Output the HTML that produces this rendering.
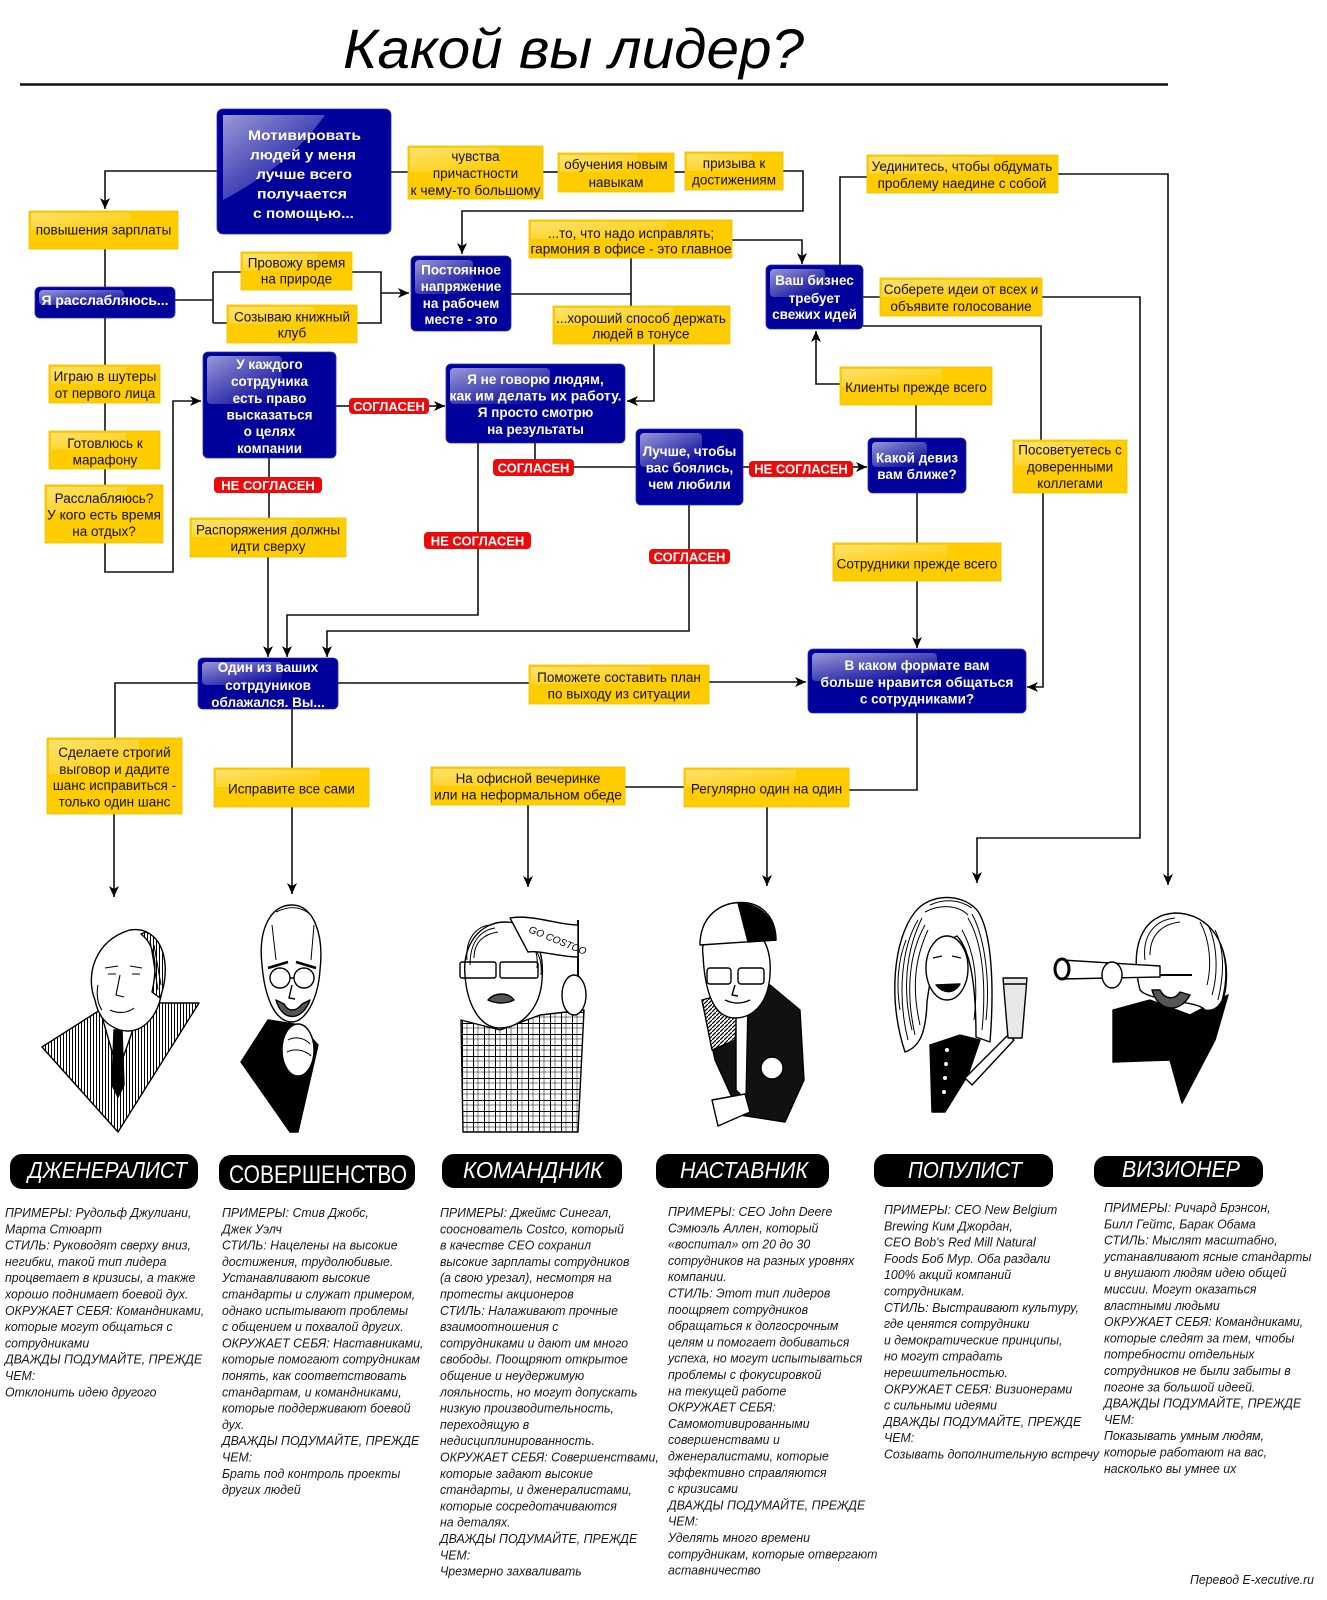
<!DOCTYPE html>
<html><head><meta charset="utf-8">
<style>
html,body{margin:0;padding:0;background:#fff;}
svg{display:block;}
.y{font-family:"Liberation Sans",sans-serif;font-size:13.5px;fill:#111;text-anchor:middle;}
.b{font-family:"Liberation Sans",sans-serif;font-size:13.5px;font-weight:bold;fill:#fff;text-anchor:middle;}
.r{font-family:"Liberation Sans",sans-serif;font-size:13px;font-weight:bold;fill:#fff;text-anchor:middle;}
.t{font-family:"Liberation Sans",sans-serif;font-size:13px;font-style:italic;fill:#1a1a1a;}
.h{font-family:"Liberation Sans",sans-serif;fill:#fff;}
</style></head>
<body>
<svg width="1327" height="1600" viewBox="0 0 1327 1600" xmlns="http://www.w3.org/2000/svg">
<defs>
 <marker id="ah" markerWidth="12" markerHeight="12" refX="11" refY="6" orient="auto" markerUnits="userSpaceOnUse"><path d="M0,1 L11,6 L0,11 L3,6 Z" fill="#000"/></marker>
 <linearGradient id="gl" x1="0" y1="0" x2="0.9" y2="1"><stop offset="0" stop-color="#fff" stop-opacity="0.6"/><stop offset="1" stop-color="#fff" stop-opacity="0"/></linearGradient>
 <linearGradient id="gy" x1="0" y1="0" x2="0.9" y2="1"><stop offset="0" stop-color="#fff" stop-opacity="0.45"/><stop offset="1" stop-color="#fff" stop-opacity="0"/></linearGradient>
 <pattern id="hatch" width="3" height="3" patternUnits="userSpaceOnUse"><rect width="3" height="3" fill="#fff"/><path d="M0.5,0 V3" stroke="#000" stroke-width="1"/></pattern>
 <pattern id="dhatch" width="4" height="4" patternUnits="userSpaceOnUse"><rect width="4" height="4" fill="#fff"/><path d="M0,4 L4,0" stroke="#000" stroke-width="1.2"/></pattern>
 <pattern id="plaid" width="11" height="11" patternUnits="userSpaceOnUse"><rect width="11" height="11" fill="#fff"/><path d="M0,0.5 H11 M0.5,0 V11" stroke="#000" stroke-width="1"/><path d="M0,5 H11 M5,0 V11" stroke="#000" stroke-width="0.5"/></pattern>
</defs>

<!-- Title -->
<text x="343" y="68" font-family="Liberation Sans, sans-serif" font-size="56" font-style="italic" fill="#000" textLength="461" lengthAdjust="spacingAndGlyphs">Какой вы лидер?</text>
<line x1="20" y1="84.5" x2="1168" y2="84.5" stroke="#111" stroke-width="2.5"/>

<!-- Connectors -->
<g fill="none" stroke="#111" stroke-width="1.6">
 <path d="M217,171 H105 V209" marker-end="url(#ah)"/>
 <path d="M391,172 H408"/>
 <path d="M543,172 H558"/>
 <path d="M674,172 H685"/>
 <path d="M783,171 H803 V211 H462 V254" marker-end="url(#ah)"/>
 <path d="M105,249 V287"/>
 <path d="M175,300 H213 M213,272 V323 M213,272 H241 M213,323 H227"/>
 <path d="M352,272 H381 V323 H357"/>
 <path d="M381,293 H409" marker-end="url(#ah)"/>
 <path d="M105,318 V572 H173 V401 H201" marker-end="url(#ah)"/>
 <path d="M511,294 H631 M631,258 V306"/>
 <path d="M732,240 H802 V264" marker-end="url(#ah)"/>
 <path d="M654,344 V401 H627" marker-end="url(#ah)"/>
 <path d="M840,265 V177 H867"/>
 <path d="M1058,174 H1168 V885" marker-end="url(#ah)"/>
 <path d="M863,297 H880"/>
 <path d="M1042,297 H1140 V838 H977 V883" marker-end="url(#ah)"/>
 <path d="M863,326 H1041 V440"/>
 <path d="M840,384 H816 V331" marker-end="url(#ah)"/>
 <path d="M916,405 V438"/>
 <path d="M336,406 H349"/>
 <path d="M429,406 H445" marker-end="url(#ah)"/>
 <path d="M269,458 V518"/>
 <path d="M268,557 V657" marker-end="url(#ah)"/>
 <path d="M535,443 V459 M574,467 H637"/>
 <path d="M478,443 V615 H287 V657" marker-end="url(#ah)"/>
 <path d="M743,467 H749"/>
 <path d="M853,467 H867" marker-end="url(#ah)"/>
 <path d="M689,505 V631 H327 V657" marker-end="url(#ah)"/>
 <path d="M917,493 V543"/>
 <path d="M917,581 V648" marker-end="url(#ah)"/>
 <path d="M1043,493 V687 H1027" marker-end="url(#ah)"/>
 <path d="M198,683 H115 V738"/>
 <path d="M114,814 V897" marker-end="url(#ah)"/>
 <path d="M292,709 V768"/>
 <path d="M292,807 V894" marker-end="url(#ah)"/>
 <path d="M338,683 H529"/>
 <path d="M709,682 H806" marker-end="url(#ah)"/>
 <path d="M917,713 V790 H849"/>
 <path d="M684,787 H625"/>
 <path d="M528,805 V887" marker-end="url(#ah)"/>
 <path d="M767,807 V886" marker-end="url(#ah)"/>
</g>

<!-- Yellow boxes -->
<g stroke="#f0bf00" stroke-width="0.8">
 <rect x="29" y="211" width="149" height="38" fill="#FFCC00"/>
 <rect x="241" y="252" width="111" height="38" fill="#FFCC00"/>
 <rect x="227" y="305" width="130" height="38" fill="#FFCC00"/>
 <rect x="408" y="146" width="135" height="53" fill="#FFCC00"/>
 <rect x="558" y="153" width="116" height="39" fill="#FFCC00"/>
 <rect x="685" y="152" width="98" height="38" fill="#FFCC00"/>
 <rect x="529" y="220" width="203" height="38" fill="#FFCC00"/>
 <rect x="553" y="306" width="177" height="38" fill="#FFCC00"/>
 <rect x="867" y="155" width="191" height="38" fill="#FFCC00"/>
 <rect x="880" y="278" width="162" height="38" fill="#FFCC00"/>
 <rect x="840" y="367" width="152" height="38" fill="#FFCC00"/>
 <rect x="49" y="365" width="111" height="38" fill="#FFCC00"/>
 <rect x="49" y="431" width="111" height="38" fill="#FFCC00"/>
 <rect x="45" y="485" width="118" height="58" fill="#FFCC00"/>
 <rect x="190" y="518" width="156" height="39" fill="#FFCC00"/>
 <rect x="833" y="543" width="168" height="38" fill="#FFCC00"/>
 <rect x="1013" y="440" width="114" height="53" fill="#FFCC00"/>
 <rect x="529" y="665" width="180" height="39" fill="#FFCC00"/>
 <rect x="47" y="738" width="135" height="76" fill="#FFCC00"/>
 <rect x="214" y="768" width="155" height="39" fill="#FFCC00"/>
 <rect x="431" y="767" width="194" height="38" fill="#FFCC00"/>
 <rect x="684" y="768" width="165" height="39" fill="#FFCC00"/>
</g>
<g fill="url(#gy)">
 <rect x="31" y="213" width="100" height="17"/>
 <rect x="243" y="254" width="75" height="17"/>
 <rect x="229" y="307" width="85" height="17"/>
 <rect x="410" y="148" width="90" height="24"/>
 <rect x="560" y="155" width="78" height="17"/>
 <rect x="687" y="154" width="65" height="17"/>
 <rect x="531" y="222" width="135" height="17"/>
 <rect x="555" y="308" width="118" height="17"/>
 <rect x="869" y="157" width="125" height="17"/>
 <rect x="882" y="280" width="108" height="17"/>
 <rect x="842" y="369" width="100" height="17"/>
 <rect x="51" y="367" width="75" height="17"/>
 <rect x="51" y="433" width="75" height="17"/>
 <rect x="47" y="487" width="80" height="26"/>
 <rect x="192" y="520" width="104" height="17"/>
 <rect x="835" y="545" width="112" height="17"/>
 <rect x="1015" y="442" width="76" height="24"/>
 <rect x="531" y="667" width="120" height="17"/>
 <rect x="49" y="740" width="90" height="34"/>
 <rect x="216" y="770" width="104" height="17"/>
 <rect x="433" y="769" width="130" height="17"/>
 <rect x="686" y="770" width="110" height="17"/>
</g>

<!-- Yellow texts -->
<text class="y" x="103.5" y="234.5">повышения зарплаты</text>
<text class="y" x="296.5" y="267.5">Провожу время</text>
<text class="y" x="296.5" y="283.5">на природе</text>
<text class="y" x="292" y="321.5">Созываю книжный</text>
<text class="y" x="292" y="337.5">клуб</text>
<text class="y" x="475.5" y="161">чувства</text>
<text class="y" x="475.5" y="178">причастности</text>
<text class="y" x="475.5" y="195" textLength="130" lengthAdjust="spacingAndGlyphs">к чему-то большому</text>
<text class="y" x="616" y="169">обучения новым</text>
<text class="y" x="616" y="187">навыкам</text>
<text class="y" x="734" y="168">призыва к</text>
<text class="y" x="734" y="184.5">достижениям</text>
<text class="y" x="631" y="238">...то, что надо исправлять;</text>
<text class="y" x="631" y="253.5" textLength="201" lengthAdjust="spacingAndGlyphs">гармония в офисе - это главное</text>
<text class="y" x="641" y="323">...хороший способ держать</text>
<text class="y" x="641" y="338.5">людей в тонусе</text>
<text class="y" x="962" y="171">Уединитесь, чтобы обдумать</text>
<text class="y" x="962" y="188">проблему наедине с собой</text>
<text class="y" x="961" y="294">Соберете идеи от всех и</text>
<text class="y" x="961" y="311">объявите голосование</text>
<text class="y" x="916" y="392">Клиенты прежде всего</text>
<text class="y" x="105" y="381">Играю в шутеры</text>
<text class="y" x="105" y="398">от первого лица</text>
<text class="y" x="105" y="448">Готовлюсь к</text>
<text class="y" x="105" y="464.5">марафону</text>
<text class="y" x="104" y="503">Расслабляюсь?</text>
<text class="y" x="104" y="519.5" textLength="114" lengthAdjust="spacingAndGlyphs">У кого есть время</text>
<text class="y" x="104" y="536">на отдых?</text>
<text class="y" x="268" y="534.5">Распоряжения должны</text>
<text class="y" x="268" y="551">идти сверху</text>
<text class="y" x="917" y="568.5">Сотрудники прежде всего</text>
<text class="y" x="1070" y="454.5">Посоветуетесь с</text>
<text class="y" x="1070" y="471.5">доверенными</text>
<text class="y" x="1070" y="488">коллегами</text>
<text class="y" x="619" y="682">Поможете составить план</text>
<text class="y" x="619" y="698.5">по выходу из ситуации</text>
<text class="y" x="114.5" y="757">Сделаете строгий</text>
<text class="y" x="114.5" y="774">выговор и дадите</text>
<text class="y" x="114.5" y="790">шанс исправиться -</text>
<text class="y" x="114.5" y="806.5">только один шанс</text>
<text class="y" x="291.5" y="793.5">Исправите все сами</text>
<text class="y" x="528" y="783">На офисной вечеринке</text>
<text class="y" x="528" y="799.5" textLength="188" lengthAdjust="spacingAndGlyphs">или на неформальном обеде</text>
<text class="y" x="766.5" y="793.5">Регулярно один на один</text>

<!-- Blue boxes -->
<g fill="#00009a" stroke="#2b2bb5" stroke-width="0.8">
 <rect x="217" y="109" width="174" height="125" rx="6"/>
 <rect x="411" y="256" width="100" height="75" rx="5"/>
 <rect x="35" y="287" width="140" height="31" rx="5"/>
 <rect x="766" y="265" width="97" height="64" rx="5"/>
 <rect x="203" y="352" width="133" height="106" rx="5"/>
 <rect x="446" y="364" width="179" height="79" rx="5"/>
 <rect x="636" y="429" width="107" height="76" rx="5"/>
 <rect x="868" y="438" width="98" height="55" rx="5"/>
 <rect x="198" y="658" width="140" height="51" rx="5"/>
 <rect x="808" y="649" width="218" height="64" rx="5"/>
</g>
<g fill="url(#gl)">
 <path d="M223,115 H325 C300,150 270,175 223,200 Z"/>
 <rect x="415" y="260" width="58" height="34" rx="4"/>
 <rect x="39" y="290" width="85" height="15" rx="4"/>
 <rect x="770" y="269" width="55" height="28" rx="4"/>
 <rect x="207" y="356" width="75" height="48" rx="4"/>
 <rect x="450" y="368" width="100" height="36" rx="4"/>
 <rect x="640" y="433" width="62" height="34" rx="4"/>
 <rect x="872" y="442" width="55" height="25" rx="4"/>
 <rect x="202" y="662" width="80" height="23" rx="4"/>
 <rect x="812" y="653" width="125" height="28" rx="4"/>
</g>

<!-- Blue texts -->
<text class="b" x="304.5" y="140" font-size="17" textLength="113" lengthAdjust="spacingAndGlyphs">Мотивировать</text>
<text class="b" x="303" y="159.5" font-size="17" textLength="106" lengthAdjust="spacingAndGlyphs">людей у меня</text>
<text class="b" x="304" y="179" font-size="17" textLength="96" lengthAdjust="spacingAndGlyphs">лучше всего</text>
<text class="b" x="302" y="198.5" font-size="17" textLength="90" lengthAdjust="spacingAndGlyphs">получается</text>
<text class="b" x="303.5" y="218" font-size="17" textLength="101" lengthAdjust="spacingAndGlyphs">с помощью...</text>
<text class="b" x="461" y="274.5">Постоянное</text>
<text class="b" x="461" y="291">напряжение</text>
<text class="b" x="461" y="308">на рабочем</text>
<text class="b" x="461" y="324">месте - это</text>
<text class="b" x="105" y="305" textLength="127" lengthAdjust="spacingAndGlyphs">Я расслабляюсь...</text>
<text class="b" x="814.5" y="285">Ваш бизнес</text>
<text class="b" x="814.5" y="303">требует</text>
<text class="b" x="814.5" y="319">свежих идей</text>
<text class="b" x="269.5" y="369">У каждого</text>
<text class="b" x="269.5" y="386">сотрдуника</text>
<text class="b" x="269.5" y="403">есть право</text>
<text class="b" x="269.5" y="419.5">высказаться</text>
<text class="b" x="269.5" y="436">о целях</text>
<text class="b" x="269.5" y="453">компании</text>
<text class="b" x="535.5" y="384">Я не говорю людям,</text>
<text class="b" x="535.5" y="400.5" textLength="172" lengthAdjust="spacingAndGlyphs">как им делать их работу.</text>
<text class="b" x="535.5" y="417">Я просто смотрю</text>
<text class="b" x="535.5" y="434">на результаты</text>
<text class="b" x="689.5" y="456">Лучше, чтобы</text>
<text class="b" x="689.5" y="472.5">вас боялись,</text>
<text class="b" x="689.5" y="489">чем любили</text>
<text class="b" x="917" y="462.5">Какой девиз</text>
<text class="b" x="917" y="479">вам ближе?</text>
<text class="b" x="268" y="672">Один из ваших</text>
<text class="b" x="268" y="690">сотрдуников</text>
<text class="b" x="268" y="707">облажался. Вы...</text>
<text class="b" x="917" y="670">В каком формате вам</text>
<text class="b" x="917" y="687" textLength="193" lengthAdjust="spacingAndGlyphs">больше нравится общаться</text>
<text class="b" x="917" y="703.5">с сотрудниками?</text>

<!-- Red labels -->
<g fill="#ee0a0a">
 <rect x="349" y="398" width="80" height="16" rx="4"/>
 <rect x="214" y="477" width="108" height="16" rx="4"/>
 <rect x="493" y="459" width="81" height="17" rx="4"/>
 <rect x="424" y="532" width="107" height="17" rx="4"/>
 <rect x="749" y="461" width="104" height="16" rx="4"/>
 <rect x="649" y="549" width="81" height="15" rx="4"/>
</g>
<text class="r" x="389" y="411">СОГЛАСЕН</text>
<text class="r" x="268" y="490">НЕ СОГЛАСЕН</text>
<text class="r" x="533.5" y="472.5">СОГЛАСЕН</text>
<text class="r" x="477.5" y="545.5">НЕ СОГЛАСЕН</text>
<text class="r" x="801" y="473.5">НЕ СОГЛАСЕН</text>
<text class="r" x="689.5" y="561.5">СОГЛАСЕН</text>

<!-- Caricatures -->
<g stroke="#000" stroke-width="1.4" stroke-linejoin="round">
 <!-- 1 Giuliani -->
 <path d="M42,1047 L100,1010 L120,1040 L145,1003 L199,1003 L118,1132 Z" fill="url(#hatch)"/>
 <path d="M100,1010 L118,1072 L142,1004 Z" fill="#fff"/>
 <path d="M114,1030 L122,1030 L124,1085 L118,1097 L112,1085 Z" fill="#000"/>
 <path d="M95,1000 C85,975 95,940 130,930 C160,925 168,960 162,990 C158,1020 140,1035 120,1030 C105,1025 98,1015 95,1000 Z" fill="#fff"/>
 <path d="M146,932 C166,940 170,972 160,998 L152,992 C158,965 155,945 141,934 Z" fill="url(#hatch)"/>
 <path d="M150,940 L158,990 M154,945 L161,985" fill="none" stroke-width="1"/>
 <path d="M105,968 L118,966 M130,966 L142,968 M108,974 L116,974 M132,974 L140,974 M120,975 L116,995 L124,997 M110,1010 C118,1014 128,1013 134,1008 M98,985 C96,995 98,1005 102,1010" fill="none" stroke-width="1.1"/>
 <!-- 2 Jobs -->
 <path d="M241,1062 L268,1020 L300,1025 L318,1045 L298,1132 L290,1132 Z" fill="#000"/>
 <path d="M262,965 C258,930 270,905 292,905 C314,905 324,935 320,970 C318,1000 305,1022 292,1022 C276,1022 265,1000 262,965 Z" fill="#fff"/>
 <path d="M276,912 C288,906 300,906 310,914 M272,925 L276,960 M314,925 L311,960" fill="none" stroke-width="1"/>
 <path d="M268,968 L288,962 M296,962 L316,968" fill="none" stroke-width="2.5"/>
 <circle cx="280" cy="978" r="10" fill="none"/><circle cx="304" cy="978" r="10" fill="none"/>
 <path d="M290,978 L294,978 M292,985 L289,998 L295,999" fill="none"/>
 <path d="M276,1000 C282,1022 302,1022 310,1000 L302,1004 C296,1012 288,1012 284,1004 Z" fill="#555"/>
 <ellipse cx="298" cy="1050" rx="16" ry="26" fill="#fff"/>
 <path d="M288,1040 C295,1036 305,1038 310,1044 M287,1052 C295,1048 305,1050 311,1056" fill="none" stroke-width="1"/>
 <!-- 3 Costco -->
 <path d="M461,1020 L500,1030 L540,1015 L584,1010 L578,1132 L463,1132 Z" fill="url(#plaid)"/>
 <path d="M465,975 C462,945 480,922 505,922 C530,922 545,945 542,980 C540,1010 520,1028 500,1028 C480,1028 467,1005 465,975 Z" fill="#fff"/>
 <path d="M467,960 C465,935 480,925 492,925 M470,965 C470,940 482,930 495,928 M474,958 C474,942 484,934 498,932 M535,950 C540,955 542,965 541,975 M530,940 C536,948 538,958 537,968" fill="none" stroke-width="1"/>
 <rect x="460" y="962" width="36" height="16" rx="2" fill="none"/>
 <rect x="500" y="962" width="38" height="16" rx="2" fill="none"/>
 <path d="M488,1000 C495,992 508,992 514,1000 C506,1004 496,1004 488,1000 Z" fill="#555"/>
 <path d="M578,920 L578,1012" fill="none" stroke-width="2"/>
 <path d="M510,918 C530,914 560,925 578,925 L578,957 C560,957 540,950 528,952 Z" fill="#fff"/>
 <text x="528" y="932" font-family="Liberation Sans, sans-serif" font-size="10" font-style="italic" stroke="none" fill="#000" transform="rotate(22 528 932)">GO COSTCO</text>
 <ellipse cx="574" cy="995" rx="12" ry="20" fill="#fff"/>
 <!-- 4 Mentor -->
 <path d="M702,1000 L740,990 L770,985 L800,1010 L804,1080 L785,1122 L740,1115 L715,1060 Z" fill="#111"/>
 <path d="M702,1000 L740,990 L735,1040 L712,1050 Z" fill="url(#dhatch)"/>
 <path d="M736,1005 L748,1003 L746,1100 L736,1090 Z" fill="#fff"/>
 <circle cx="772" cy="1068" r="11" fill="#fff"/>
 <path d="M703,955 C700,935 715,925 735,925 C760,925 772,945 770,975 C768,1005 752,1018 735,1018 C715,1018 705,995 703,955 Z" fill="#fff"/>
 <path d="M700,942 C702,912 725,900 748,903 C765,906 776,920 776,940 L700,945 Z" fill="#fff"/>
 <path d="M738,903 C758,904 775,916 776,940 L748,942 Z" fill="#000"/>
 <rect x="707" y="968" width="24" height="16" rx="3" fill="none"/>
 <rect x="738" y="968" width="26" height="16" rx="3" fill="none"/>
 <path d="M725,1000 C733,1004 742,1004 750,1000 M735,985 L732,995 L738,996" fill="none"/>
 <path d="M712,1100 L745,1094 L750,1112 L718,1126 Z" fill="#fff"/>
 <!-- 5 Populist -->
 <path d="M930,1045 L960,1035 L980,1040 L968,1075 L945,1112 L932,1112 Z" fill="#000"/>
 <circle cx="947" cy="1050" r="2" fill="#fff" stroke="none"/>
 <circle cx="946" cy="1064" r="2" fill="#fff" stroke="none"/>
 <circle cx="945" cy="1078" r="2" fill="#fff" stroke="none"/>
 <circle cx="944" cy="1092" r="2" fill="#fff" stroke="none"/>
 <path d="M965,1078 L1008,1035 L1014,1040 L972,1085 Z" fill="#fff"/>
 <path d="M905,1052 C888,1000 893,940 915,912 C930,893 962,893 977,910 C993,932 994,992 990,1042 L976,1037 C976,992 972,952 957,936 C942,942 932,962 927,1002 C926,1032 920,1047 905,1052 Z" fill="#fff"/>
 <path d="M908,1040 C898,1000 900,950 918,920 M915,1035 C906,995 908,955 925,925 M912,1030 C902,990 906,950 922,918 M920,1025 C912,990 914,960 928,930 M982,1030 C986,990 984,945 968,918 M974,1020 C978,985 976,955 962,930 M986,1020 C990,985 986,940 972,914 M930,905 C945,898 960,900 972,908 M925,912 C940,904 958,905 968,915 M900,1010 C896,985 898,960 906,940" fill="none" stroke-width="1"/>
 <ellipse cx="947" cy="968" rx="21" ry="32" fill="#fff"/>
 <path d="M933,958 L942,956 M952,956 L961,958" fill="none" stroke-width="1.2"/>
 <path d="M936,985 C944,994 954,994 960,984 Z" fill="#000"/>
 <path d="M1003,978 L1027,978 L1022,1038 L1008,1038 Z" fill="#e8e8e8"/>
 <path d="M1003,984 L1027,984" fill="none"/>
 <!-- 6 Visionary -->
 <path d="M1113,1010 L1150,1000 L1190,1015 L1228,995 L1215,1040 L1182,1103 L1170,1060 L1113,1062 Z" fill="#000"/>
 <path d="M1140,990 C1130,950 1140,915 1175,913 C1210,913 1230,945 1226,985 C1224,1005 1215,1012 1205,1010 C1198,1000 1150,1002 1140,990 Z" fill="#fff"/>
 <path d="M1145,960 C1142,935 1155,920 1175,918 M1150,955 C1150,935 1162,924 1180,922 M1215,930 C1225,950 1224,975 1218,1000 M1208,925 C1218,945 1218,975 1212,995 M1200,922 C1210,940 1212,965 1207,985 M1221,945 C1228,965 1226,985 1222,1000" fill="none" stroke-width="1"/>
 <path d="M1152,990 C1158,1012 1180,1014 1190,995 L1180,992 C1175,1000 1165,1000 1160,990 Z" fill="#555"/>
 <path d="M1158,975 L1192,975" fill="none" stroke-width="2"/>
 <path d="M1062,960 L1160,966 L1160,977 L1062,979 Z" fill="#fff"/>
 <ellipse cx="1062" cy="969" rx="7" ry="10" fill="#fff" stroke-width="3"/>
 <ellipse cx="1112" cy="975" rx="10" ry="13" fill="#fff"/>
</g>

<!-- Headings -->
<g fill="#000">
 <rect x="10" y="1154" width="188" height="35" rx="12"/>
 <rect x="219" y="1155" width="196" height="35" rx="12"/>
 <rect x="442" y="1154" width="180" height="34" rx="12"/>
 <rect x="656" y="1154" width="173" height="34" rx="12"/>
 <rect x="874" y="1154" width="179" height="33" rx="12"/>
 <rect x="1094" y="1156" width="169" height="31" rx="12"/>
</g>
<text class="h" x="28" y="1178" font-size="23" font-style="italic" textLength="159" lengthAdjust="spacingAndGlyphs">ДЖЕНЕРАЛИСТ</text>
<text class="h" x="229" y="1183" font-size="25" textLength="178" lengthAdjust="spacingAndGlyphs">СОВЕРШЕНСТВО</text>
<text class="h" x="463" y="1178" font-size="23" font-style="italic" textLength="140" lengthAdjust="spacingAndGlyphs">КОМАНДНИК</text>
<text class="h" x="680" y="1178" font-size="23" font-style="italic" textLength="128" lengthAdjust="spacingAndGlyphs">НАСТАВНИК</text>
<text class="h" x="908" y="1178" font-size="23" font-style="italic" textLength="114" lengthAdjust="spacingAndGlyphs">ПОПУЛИСТ</text>
<text class="h" x="1122" y="1177" font-size="23" font-style="italic" textLength="118" lengthAdjust="spacingAndGlyphs">ВИЗИОНЕР</text>

<!-- Column texts -->
<g transform="translate(5,0) scale(0.95,1) translate(-5,0)">
<text class="t" x="5" y="1217">
 <tspan x="5">ПРИМЕРЫ: Рудольф Джулиани,</tspan>
 <tspan x="5" dy="16.3">Марта Стюарт</tspan>
 <tspan x="5" dy="16.3">СТИЛЬ: Руководят сверху вниз,</tspan>
 <tspan x="5" dy="16.3">негибки, такой тип лидера</tspan>
 <tspan x="5" dy="16.3">процветает в кризисы, а также</tspan>
 <tspan x="5" dy="16.3">хорошо поднимает боевой дух.</tspan>
 <tspan x="5" dy="16.3">ОКРУЖАЕТ СЕБЯ: Командниками,</tspan>
 <tspan x="5" dy="16.3">которые могут общаться с</tspan>
 <tspan x="5" dy="16.3">сотрудниками</tspan>
 <tspan x="5" dy="16.3">ДВАЖДЫ ПОДУМАЙТЕ, ПРЕЖДЕ</tspan>
 <tspan x="5" dy="16.3">ЧЕМ:</tspan>
 <tspan x="5" dy="16.3">Отклонить идею другого</tspan>
</text>
</g>
<g transform="translate(222,0) scale(0.95,1) translate(-222,0)">
<text class="t" x="222" y="1217">
 <tspan x="222">ПРИМЕРЫ: Стив Джобс,</tspan>
 <tspan x="222" dy="16.3">Джек Уэлч</tspan>
 <tspan x="222" dy="16.3">СТИЛЬ: Нацелены на высокие</tspan>
 <tspan x="222" dy="16.3">достижения, трудолюбивые.</tspan>
 <tspan x="222" dy="16.3">Устанавливают высокие</tspan>
 <tspan x="222" dy="16.3">стандарты и служат примером,</tspan>
 <tspan x="222" dy="16.3">однако испытывают проблемы</tspan>
 <tspan x="222" dy="16.3">с общением и похвалой других.</tspan>
 <tspan x="222" dy="16.3">ОКРУЖАЕТ СЕБЯ: Наставниками,</tspan>
 <tspan x="222" dy="16.3">которые помогают сотрудникам</tspan>
 <tspan x="222" dy="16.3">понять, как соответствовать</tspan>
 <tspan x="222" dy="16.3">стандартам, и командниками,</tspan>
 <tspan x="222" dy="16.3">которые поддерживают боевой</tspan>
 <tspan x="222" dy="16.3">дух.</tspan>
 <tspan x="222" dy="16.3">ДВАЖДЫ ПОДУМАЙТЕ, ПРЕЖДЕ</tspan>
 <tspan x="222" dy="16.3">ЧЕМ:</tspan>
 <tspan x="222" dy="16.3">Брать под контроль проекты</tspan>
 <tspan x="222" dy="16.3">других людей</tspan>
</text>
</g>
<g transform="translate(440,0) scale(0.95,1) translate(-440,0)">
<text class="t" x="440" y="1217">
 <tspan x="440">ПРИМЕРЫ: Джеймс Синегал,</tspan>
 <tspan x="440" dy="16.3">сооснователь Costco, который</tspan>
 <tspan x="440" dy="16.3">в качестве CEO сохранил</tspan>
 <tspan x="440" dy="16.3">высокие зарплаты сотрудников</tspan>
 <tspan x="440" dy="16.3">(а свою урезал), несмотря на</tspan>
 <tspan x="440" dy="16.3">протесты акционеров</tspan>
 <tspan x="440" dy="16.3">СТИЛЬ: Налаживают прочные</tspan>
 <tspan x="440" dy="16.3">взаимоотношения с</tspan>
 <tspan x="440" dy="16.3">сотрудниками и дают им много</tspan>
 <tspan x="440" dy="16.3">свободы. Поощряют открытое</tspan>
 <tspan x="440" dy="16.3">общение и неудержимую</tspan>
 <tspan x="440" dy="16.3">лояльность, но могут допускать</tspan>
 <tspan x="440" dy="16.3">низкую производительность,</tspan>
 <tspan x="440" dy="16.3">переходящую в</tspan>
 <tspan x="440" dy="16.3">недисциплинированность.</tspan>
 <tspan x="440" dy="16.3">ОКРУЖАЕТ СЕБЯ: Совершенствами,</tspan>
 <tspan x="440" dy="16.3">которые задают высокие</tspan>
 <tspan x="440" dy="16.3">стандарты, и дженералистами,</tspan>
 <tspan x="440" dy="16.3">которые сосредотачиваются</tspan>
 <tspan x="440" dy="16.3">на деталях.</tspan>
 <tspan x="440" dy="16.3">ДВАЖДЫ ПОДУМАЙТЕ, ПРЕЖДЕ</tspan>
 <tspan x="440" dy="16.3">ЧЕМ:</tspan>
 <tspan x="440" dy="16.3">Чрезмерно захваливать</tspan>
</text>
</g>
<g transform="translate(668,0) scale(0.95,1) translate(-668,0)">
<text class="t" x="668" y="1216">
 <tspan x="668">ПРИМЕРЫ: CEO John Deere</tspan>
 <tspan x="668" dy="16.3">Сэмюэль Аллен, который</tspan>
 <tspan x="668" dy="16.3">«воспитал» от 20 до 30</tspan>
 <tspan x="668" dy="16.3">сотрудников на разных уровнях</tspan>
 <tspan x="668" dy="16.3">компании.</tspan>
 <tspan x="668" dy="16.3">СТИЛЬ: Этот тип лидеров</tspan>
 <tspan x="668" dy="16.3">поощряет сотрудников</tspan>
 <tspan x="668" dy="16.3">обращаться к долгосрочным</tspan>
 <tspan x="668" dy="16.3">целям и помогает добиваться</tspan>
 <tspan x="668" dy="16.3">успеха, но могут испытываться</tspan>
 <tspan x="668" dy="16.3">проблемы с фокусировкой</tspan>
 <tspan x="668" dy="16.3">на текущей работе</tspan>
 <tspan x="668" dy="16.3">ОКРУЖАЕТ СЕБЯ:</tspan>
 <tspan x="668" dy="16.3">Самомотивированными</tspan>
 <tspan x="668" dy="16.3">совершенствами и</tspan>
 <tspan x="668" dy="16.3">дженералистами, которые</tspan>
 <tspan x="668" dy="16.3">эффективно справляются</tspan>
 <tspan x="668" dy="16.3">с кризисами</tspan>
 <tspan x="668" dy="16.3">ДВАЖДЫ ПОДУМАЙТЕ, ПРЕЖДЕ</tspan>
 <tspan x="668" dy="16.3">ЧЕМ:</tspan>
 <tspan x="668" dy="16.3">Уделять много времени</tspan>
 <tspan x="668" dy="16.3">сотрудникам, которые отвергают</tspan>
 <tspan x="668" dy="16.3">аставничество</tspan>
</text>
</g>
<g transform="translate(884,0) scale(0.95,1) translate(-884,0)">
<text class="t" x="884" y="1214">
 <tspan x="884">ПРИМЕРЫ: CEO New Belgium</tspan>
 <tspan x="884" dy="16.3">Brewing Ким Джордан,</tspan>
 <tspan x="884" dy="16.3">CEO Bob's Red Mill Natural</tspan>
 <tspan x="884" dy="16.3">Foods Боб Мур. Оба раздали</tspan>
 <tspan x="884" dy="16.3">100% акций компаний</tspan>
 <tspan x="884" dy="16.3">сотрудникам.</tspan>
 <tspan x="884" dy="16.3">СТИЛЬ: Выстраивают культуру,</tspan>
 <tspan x="884" dy="16.3">где ценятся сотрудники</tspan>
 <tspan x="884" dy="16.3">и демократические принципы,</tspan>
 <tspan x="884" dy="16.3">но могут страдать</tspan>
 <tspan x="884" dy="16.3">нерешительностью.</tspan>
 <tspan x="884" dy="16.3">ОКРУЖАЕТ СЕБЯ: Визионерами</tspan>
 <tspan x="884" dy="16.3">с сильными идеями</tspan>
 <tspan x="884" dy="16.3">ДВАЖДЫ ПОДУМАЙТЕ, ПРЕЖДЕ</tspan>
 <tspan x="884" dy="16.3">ЧЕМ:</tspan>
 <tspan x="884" dy="16.3">Созывать дополнительную встречу</tspan>
</text>
</g>
<g transform="translate(1104,0) scale(0.95,1) translate(-1104,0)">
<text class="t" x="1104" y="1212">
 <tspan x="1104">ПРИМЕРЫ: Ричард Брэнсон,</tspan>
 <tspan x="1104" dy="16.3">Билл Гейтс, Барак Обама</tspan>
 <tspan x="1104" dy="16.3">СТИЛЬ: Мыслят масштабно,</tspan>
 <tspan x="1104" dy="16.3">устанавливают ясные стандарты</tspan>
 <tspan x="1104" dy="16.3">и внушают людям идею общей</tspan>
 <tspan x="1104" dy="16.3">миссии. Могут оказаться</tspan>
 <tspan x="1104" dy="16.3">властными людьми</tspan>
 <tspan x="1104" dy="16.3">ОКРУЖАЕТ СЕБЯ: Командниками,</tspan>
 <tspan x="1104" dy="16.3">которые следят за тем, чтобы</tspan>
 <tspan x="1104" dy="16.3">потребности отдельных</tspan>
 <tspan x="1104" dy="16.3">сотрудников не были забыты в</tspan>
 <tspan x="1104" dy="16.3">погоне за большой идеей.</tspan>
 <tspan x="1104" dy="16.3">ДВАЖДЫ ПОДУМАЙТЕ, ПРЕЖДЕ</tspan>
 <tspan x="1104" dy="16.3">ЧЕМ:</tspan>
 <tspan x="1104" dy="16.3">Показывать умным людям,</tspan>
 <tspan x="1104" dy="16.3">которые работают на вас,</tspan>
 <tspan x="1104" dy="16.3">насколько вы умнее их</tspan>
</text>
</g>
<text class="t" x="1190" y="1584" font-size="11" textLength="124" lengthAdjust="spacingAndGlyphs">Перевод E-xecutive.ru</text>
</svg>
</body></html>
